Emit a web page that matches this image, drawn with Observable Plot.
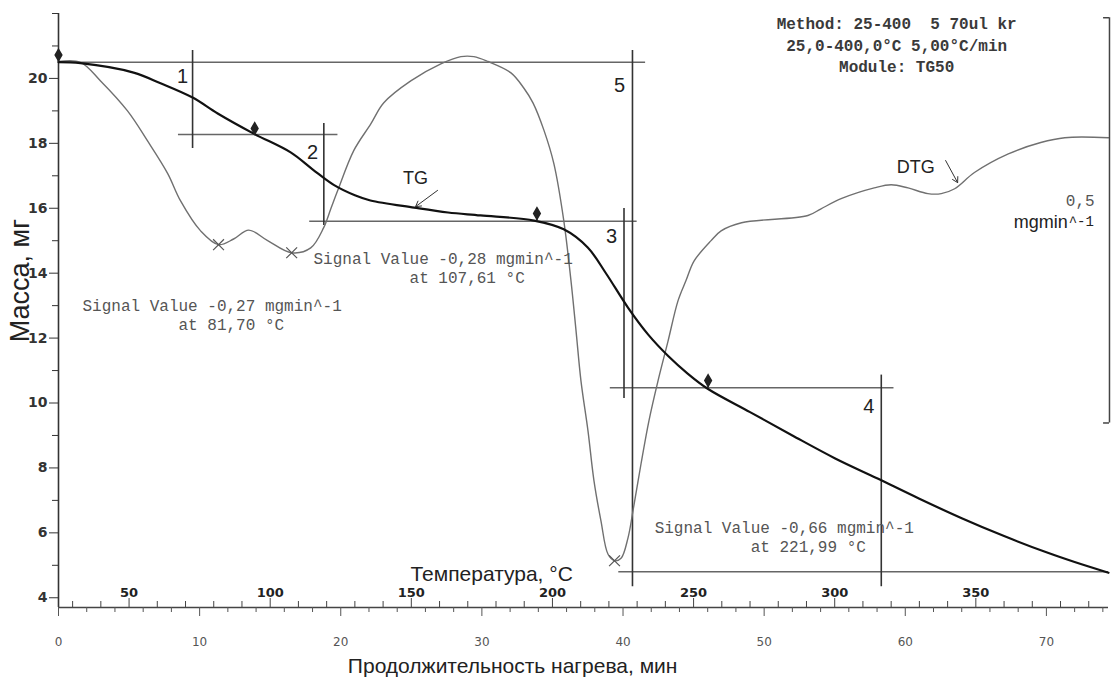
<!DOCTYPE html>
<html><head><meta charset="utf-8">
<script src="https://cdn.jsdelivr.net/npm/d3@7"></script>
<script src="https://cdn.jsdelivr.net/npm/@observablehq/plot@0.6"></script>
<style>html,body{margin:0;padding:0;background:#fff}svg{display:block}</style>
</head><body><div id="chart"></div>
<script>
// ---------- data ----------
// TG curve: time (min) and mass (mg)
const tgTime = [0, 1.56, 5.32, 7.23, 9.5, 11.28, 13.83, 16.45, 18.0, 19.5, 21.0, 22.1, 25.2, 27.6, 29.9, 33.7, 35.8, 37.5, 38.8, 40.35, 41.8, 43.2, 44.6, 46.0, 49.0, 52.0, 55.0, 58.0, 61.0, 64.0, 67.0, 70.0, 72.0, 74.4];
const tgMass = [20.5, 20.47, 20.18, 19.85, 19.41, 18.92, 18.3, 17.72, 17.2, 16.72, 16.4, 16.24, 16.02, 15.87, 15.78, 15.62, 15.35, 14.79, 13.99, 12.94, 12.1, 11.45, 10.9, 10.44, 9.72, 9.0, 8.3, 7.68, 7.05, 6.45, 5.9, 5.4, 5.1, 4.77];
// DTG curve: time (min) and rate (mg/min)
const dtgTime = [0, 1.56, 2.98, 4.89, 6.31, 7.73, 8.65, 10.07, 11.34, 12.41, 13.48, 14.82, 16.52, 17.87, 18.79, 19.29, 19.79, 20.92, 22.13, 23.05, 24.96, 27.09, 28.51, 29.43, 30.43, 32.06, 32.98, 33.62, 34.4, 35.1, 35.8, 36.31, 36.67, 37.02, 37.52, 37.94, 38.44, 38.94, 39.4, 39.86, 40.35, 40.71, 41.28, 41.84, 42.48, 43.19, 43.9, 44.47, 45.04, 46.24, 46.95, 48.4, 53.1, 54.0, 55.5, 57.8, 59.0, 60.2, 61.6, 62.55, 63.5, 64.9, 67.3, 69.6, 71.3, 74.4];
const dtgRate = [-0.044, -0.045, -0.068, -0.105, -0.142, -0.182, -0.216, -0.253, -0.27, -0.263, -0.252, -0.265, -0.28, -0.274, -0.249, -0.226, -0.203, -0.154, -0.121, -0.095, -0.068, -0.047, -0.038, -0.038, -0.044, -0.058, -0.077, -0.095, -0.129, -0.17, -0.24, -0.314, -0.376, -0.438, -0.5, -0.561, -0.611, -0.652, -0.66, -0.657, -0.632, -0.598, -0.54, -0.487, -0.438, -0.389, -0.339, -0.314, -0.29, -0.265, -0.253, -0.243, -0.234, -0.226, -0.213, -0.2, -0.196, -0.2, -0.207, -0.207, -0.201, -0.181, -0.158, -0.144, -0.138, -0.138];
// DTG peaks
const peakTemp = [81.70, 107.61, 221.99];
const peakRate = [-0.27, -0.28, -0.66];
// step analysis: mass levels (horizontal lines) and step heights (vertical lines)
const levelMass = [20.5, 18.27, 15.6, 10.47, 4.8];
const levelFrom = [0, 8.5, 17.8, 39.1, 39.7];
const levelTo = [41.6, 19.8, 41.0, 59.2, 74.4];
const stepNames = ["1", "2", "3", "4", "5"];
const stepTime = [9.5, 18.8, 40.07, 58.3, 40.67];
const stepTop = [20.86, 18.61, 15.99, 10.86, 20.86];
const stepBottom = [17.84, 15.47, 10.14, 4.34, 4.34];
// onset pins
const pinTime = [0, 13.9, 33.9, 46.03];
const pinMass = [20.72, 18.46, 15.84, 10.69];
const pinLevel = [20.5, 18.27, 15.6, 10.47];
// axes
const massTicks = [4, 6, 8, 10, 12, 14, 16, 18, 20];
const massMinor = [5, 7, 9, 11, 13, 15, 17, 19, 21, 22];
const timeTicks = [0, 10, 20, 30, 40, 50, 60, 70];
const timeMinor = [2, 4, 6, 8, 12, 14, 16, 18, 22, 24, 26, 28, 32, 34, 36, 38, 42, 44, 46, 48, 52, 54, 56, 58, 62, 64, 66, 68, 72, 74];
const tempTicks = [50, 100, 150, 200, 250, 300, 350];
const tempMinor = [30, 40, 60, 70, 80, 90, 110, 120, 130, 140, 160, 170, 180, 190, 210, 220, 230, 240, 260, 270, 280, 290, 310, 320, 330, 340, 360, 370, 380, 390];
const methodLines = ["Method: 25-400  5 70ul kr", "25,0-400,0°C 5,00°C/min", "Module: TG50"];
const dtgScaleSpan = [0.01, -0.49]; // 0,5 mg/min bar

// ---------- conversions ----------
const tempToTime = T => (T - 25) / 5;           // 5 °C/min from 25 °C
const dtgToMass = r => 21.62 + 24.97 * r;        // DTG drawn against the mass axis
const fmt = v => v.toFixed(2).replace(".", ",");
const nb = s => s.replace(/  /g, " \u00a0");

const yBase = 3.7;
const pxPerMg = 594 / 18.3;

const tg = tgTime.map((t, i) => ({t, m: tgMass[i]}));
const dtg = dtgTime.map((t, i) => ({t, m: dtgToMass(dtgRate[i])}));
const peaks = peakTemp.map((T, i) => ({t: tempToTime(T), m: dtgToMass(peakRate[i]), T, r: peakRate[i]}));
const levels = levelMass.map((m, i) => ({m, from: levelFrom[i], to: levelTo[i]}));
const steps = stepNames.map((n, i) => ({n, t: stepTime[i], top: stepTop[i], bottom: stepBottom[i]}));
const pins = pinTime.map((t, i) => ({t, m: pinMass[i], level: pinLevel[i]}));

// label placement (layout)
const stepLabelPos = [[8.79, 20.06], [18.0, 17.72], [39.19, 15.13], [57.41, 9.89], [39.76, 19.78]];
const signalPos = [[1.70, 12.74], [18.07, 14.19], [42.24, 5.89]];
const signals = peaks.map((p, i) => ({
  x: signalPos[i][0], y: signalPos[i][1],
  label: `Signal Value ${fmt(p.r)} mgmin^-1\n${"\u00a0".repeat(10)}at ${fmt(p.T)} °C`
}));
const stepLabels = steps.map((s, i) => ({n: s.n, x: stepLabelPos[i][0], y: stepLabelPos[i][1]}));
const arrows = [
  {x1: 26.86, y1: 16.55, x2: 25.30, y2: 16.05},
  {x1: 62.86, y1: 17.47, x2: 63.71, y2: 16.79}
];
const barX = 74.47;

const sans = "Liberation Sans, Arial, sans-serif";
const mono = "Liberation Mono, Courier New, monospace";

const chart = Plot.plot({
  width: 1111, height: 677,
  marginLeft: 58, marginRight: 3, marginTop: 13, marginBottom: 70,
  x: {domain: [0, 74.4], label: null},
  y: {domain: [yBase, 22], label: null},
  style: {background: "#fff", fontFamily: "DejaVu Sans", overflow: "visible"},
  marks: [
    // axis lines
    Plot.ruleX([0], {stroke: "#333", strokeWidth: 1.6}),
    Plot.ruleY([yBase], {stroke: "#444", strokeWidth: 1.5}),
    // y axis
    Plot.axisY({ticks: massTicks, tickSize: 9, tickPadding: 2, fontSize: 14, fontWeight: "bold", color: "#333", label: null, tickFormat: d => String(d)}),
    Plot.axisY({ticks: massMinor, tickSize: 6, fill: "none", stroke: "#333", label: null}),
    // time axis (below)
    Plot.axisX({ticks: timeTicks, tickSize: 9, tickPadding: 21, fontSize: 12, color: "#555", label: null, tickFormat: d => String(d)}),
    Plot.axisX({ticks: timeMinor, tickSize: 5, fill: "none", stroke: "#555", label: null}),
    // temperature axis (above the same line)
    Plot.ruleX(tempTicks.map(tempToTime), {y1: yBase, y2: yBase + 9 / pxPerMg, stroke: "#444"}),
    Plot.ruleX(tempMinor.map(tempToTime), {y1: yBase, y2: yBase + 6 / pxPerMg, stroke: "#444"}),
    Plot.text(tempTicks, {x: d => tempToTime(d), y: yBase, dy: -15, text: d => String(d), fontSize: 13, fontWeight: "bold", fill: "#222"}),
    // axis titles
    Plot.text(["Температура, °C"], {x: 30.69, y: 4.72, text: d => d, fontFamily: sans, fontSize: 21, fill: "#222"}),
    Plot.text(["Продолжительность нагрева, мин"], {x: 32.18, y: yBase, dy: 59, text: d => d, fontFamily: sans, fontSize: 21, fill: "#222"}),
    Plot.text(["Масса, мг"], {x: 0, dx: -38, y: 13.77, rotate: -90, text: d => d, fontFamily: sans, fontSize: 27, fill: "#222"}),
    // step analysis lines
    Plot.ruleY(levels, {y: "m", x1: "from", x2: "to", stroke: "#666", strokeWidth: 1.5}),
    Plot.ruleX(steps, {x: "t", y1: "top", y2: "bottom", stroke: "#333", strokeWidth: 1.6}),
    // curves
    Plot.line(dtg, {x: "t", y: "m", stroke: "#707070", strokeWidth: 1.4, curve: "catmull-rom"}),
    Plot.line(tg, {x: "t", y: "m", stroke: "#111", strokeWidth: 2.2, curve: "catmull-rom"}),
    // peak crosses
    Plot.dot(peaks, {x: "t", y: "m", symbol: "times", r: 5, stroke: "#555", strokeWidth: 1.2}),
    // pins
    Plot.ruleX(pins, {x: "t", y1: "m", y2: "level", stroke: "#222", strokeWidth: 1.5}),
    Plot.dot(pins, {x: "t", y: "m", symbol: "diamond", r: 3.5, fill: "#222", stroke: "#222"}),
    // step numbers
    Plot.text(stepLabels, {x: "x", y: "y", text: "n", fontFamily: sans, fontSize: 20, fill: "#222"}),
    // signal value annotations
    Plot.text(signals, {x: "x", y: "y", text: "label", textAnchor: "start", lineAnchor: "middle", fontFamily: mono, fontSize: 16, lineHeight: 1.2, fill: "#555"}),
    // curve names + arrows
    Plot.text([{s: "TG", x: 25.30, y: 16.92}, {s: "DTG", x: 60.74, y: 17.26}], {x: "x", y: "y", text: "s", fontFamily: sans, fontSize: 18, fill: "#222"}),
    Plot.arrow(arrows, {x1: "x1", y1: "y1", x2: "x2", y2: "y2", stroke: "#333", strokeWidth: 1, headLength: 9}),
    // method text
    Plot.text([methodLines.map(nb).join("\n")], {x: 59.39, y: 21.06, text: d => d, textAnchor: "middle", lineAnchor: "middle", fontFamily: mono, fontSize: 16, fontWeight: "bold", lineHeight: 1.34, fill: "#3a3a3a"}),
    // DTG scale bar 0,5 mg/min
    Plot.ruleX([barX], {y1: dtgToMass(dtgScaleSpan[0]), y2: dtgToMass(dtgScaleSpan[1]), stroke: "#444", strokeWidth: 1.5}),
    Plot.ruleY(dtgScaleSpan.map(dtgToMass), {x1: 74.05, x2: barX, stroke: "#444", strokeWidth: 1.5}),
    Plot.text(["0,5"], {x: 73.42, y: 16.24, text: d => d, textAnchor: "end", fontFamily: mono, fontSize: 16, fill: "#555"}),
    Plot.text(["mgmin"], {x: 71.51, y: 15.56, text: d => d, textAnchor: "end", fontFamily: sans, fontSize: 18, fill: "#222"}),
    Plot.text(["^-1"], {x: 71.58, y: 15.6, text: d => d, textAnchor: "start", fontFamily: mono, fontSize: 14, fill: "#222"})
  ]
});
document.getElementById("chart").appendChild(chart);
</script>
</body></html>
